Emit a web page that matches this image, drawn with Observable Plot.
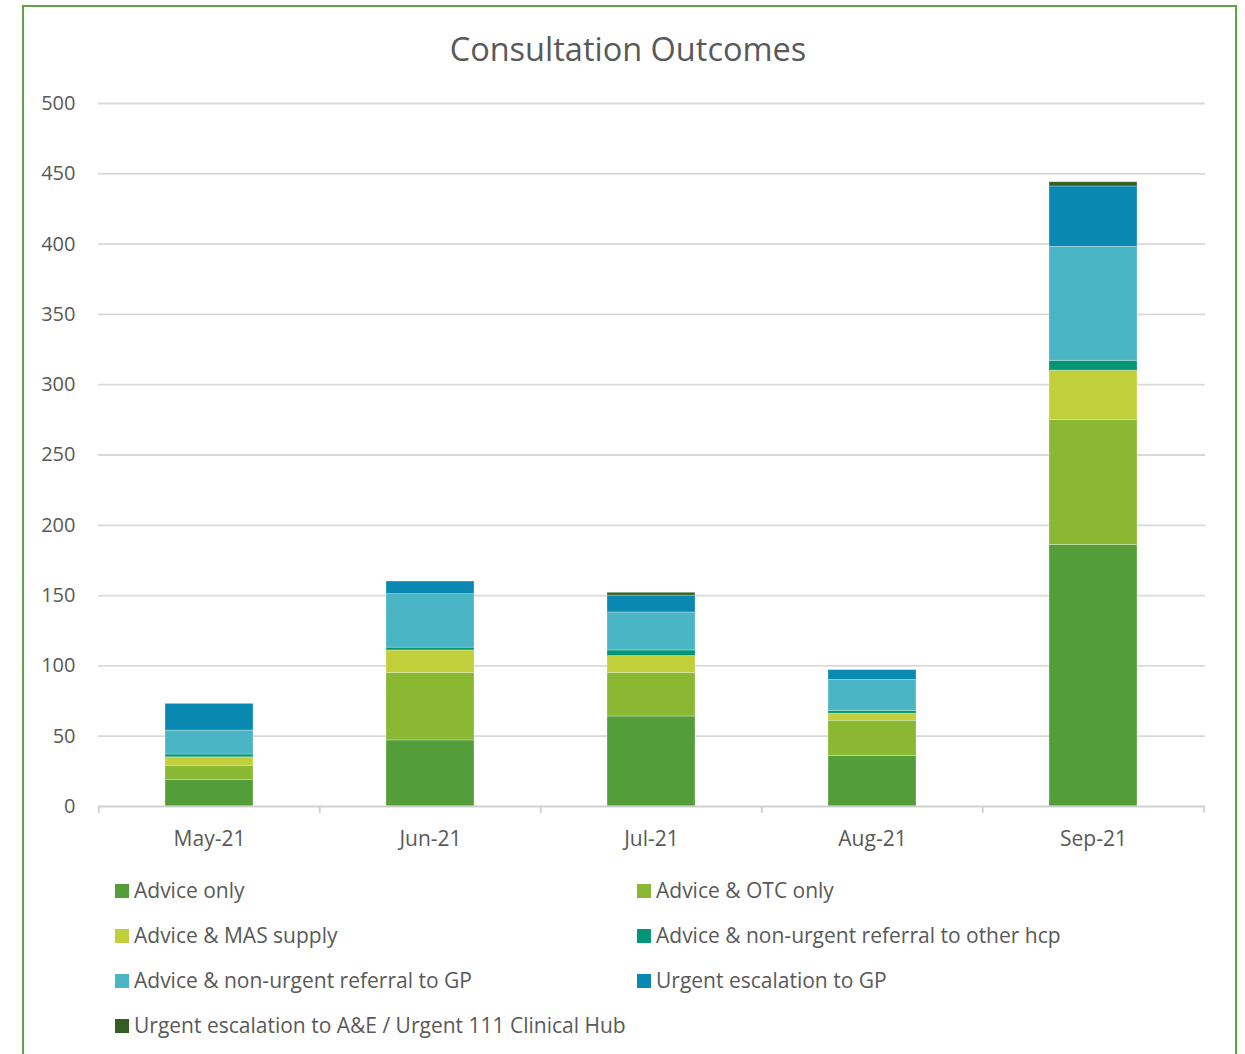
<!DOCTYPE html>
<html>
<head>
<meta charset="utf-8">
<script src="https://cdn.jsdelivr.net/npm/d3@7"></script>
<script src="https://cdn.jsdelivr.net/npm/@observablehq/plot@0.6"></script>
<style>
  body { margin: 0; background: #fff; font-family: "Open Sans", sans-serif; }
  #wrap { position: relative; width: 1245px; height: 1054px; overflow: hidden; }
  #frame { position: absolute; left: 22px; top: 5px; width: 1211px; height: 1080px; border: 2px solid #5BA545; }
  #title { position: absolute; left: 0; width: 1256px; top: 26px; text-align: center; font-size: 32.5px; color: #595959; }
  #chart { position: absolute; left: 0; top: 0; }
  .leg { position: absolute; font-size: 21px; color: #595959; white-space: nowrap; line-height: 1; }
  .leg span.sw { position: absolute; left: 0; top: 4px; width: 14px; height: 14px; }
  .leg span.t { position: absolute; left: 19px; top: 0; }
</style>
</head>
<body>
<div id="wrap">
  <div id="frame"></div>
  <div id="chart"></div>
  <div id="title">Consultation Outcomes</div>
  <div id="legend"></div>
</div>
<script>
const months = ["May-21", "Jun-21", "Jul-21", "Aug-21", "Sep-21"];
const series = [
  "Advice only",
  "Advice & OTC only",
  "Advice & MAS supply",
  "Advice & non-urgent referral to other hcp",
  "Advice & non-urgent referral to GP",
  "Urgent escalation to GP",
  "Urgent escalation to A&E / Urgent 111 Clinical Hub"
];
const colors = ["#549E39", "#8AB833", "#C0CF3A", "#029676", "#4AB5C4", "#0989B1", "#335F22"];
const adviceOnly   = [19, 47, 64, 36, 186];
const adviceOTC    = [10, 48, 31, 25, 89];
const adviceMAS    = [6, 16, 12, 5, 35];
const referralHcp  = [2, 2, 4, 2, 7];
const referralGP   = [17, 38, 27, 22, 81];
const urgentGP     = [19, 9, 12, 7, 43];
const urgentAE     = [0, 0, 2, 0, 3];
const yTicks = [0, 50, 100, 150, 200, 250, 300, 350, 400, 450, 500];

const valueLists = [adviceOnly, adviceOTC, adviceMAS, referralHcp, referralGP, urgentGP, urgentAE];
const data = [];
series.forEach((s, i) => months.forEach((m, j) => data.push({month: m, series: s, value: valueLists[i][j]})));

const W = 1245, H = 860, mL = 98, mR = 40, mT = 103, mB = 54;
const step = (W - mL - mR) / months.length;

const chart = Plot.plot({
  width: W, height: H,
  marginLeft: mL, marginRight: mR, marginTop: mT, marginBottom: mB,
  style: { fontFamily: "Open Sans, sans-serif", fontSize: "20px", color: "#595959", background: "transparent", overflow: "visible" },
  x: { domain: months, paddingInner: 0.6, paddingOuter: 0.3, label: null, tickSize: 0, tickPadding: 25 },
  y: { domain: [0, 500], ticks: yTicks, label: null, tickSize: 0, tickPadding: 23 },
  color: { domain: series, range: colors },
  marks: [
    Plot.ruleY(yTicks.filter(d => d > 0), { stroke: "#D9D9D9", strokeWidth: 1.8 }),
    Plot.barY(data, { x: "month", y: "value", fill: "series", z: "series", stroke: "#ffffff", strokeOpacity: 0.35, strokeWidth: 0.8 }),
    Plot.ruleY([0], { stroke: "#D0D0D0", strokeWidth: 1.8 }),
    Plot.ruleX(months, { x: d => d, dx: -step / 2, y1: 0, y2: -5, stroke: "#D0D0D0", strokeWidth: 1.8 }),
    Plot.ruleX(months.slice(-1), { x: d => d, dx: step / 2, y1: 0, y2: -5, stroke: "#D0D0D0", strokeWidth: 1.8 })
  ]
});
document.getElementById("chart").appendChild(chart);
chart.querySelectorAll("g[aria-label='x-axis'] text, g[aria-label='x-axis tick label'] text").forEach(t => t.style.fontSize = "21px");

const legend = document.getElementById("legend");
series.forEach((s, i) => {
  const col = i % 2, row = Math.floor(i / 2);
  const d = document.createElement("div");
  d.className = "leg";
  d.style.left = (col === 0 ? 115 : 637) + "px";
  d.style.top = (880 + row * 45) + "px";
  d.innerHTML = `<span class="sw" style="background:${colors[i]}"></span><span class="t">${s}</span>`;
  legend.appendChild(d);
});
</script>
</body>
</html>
